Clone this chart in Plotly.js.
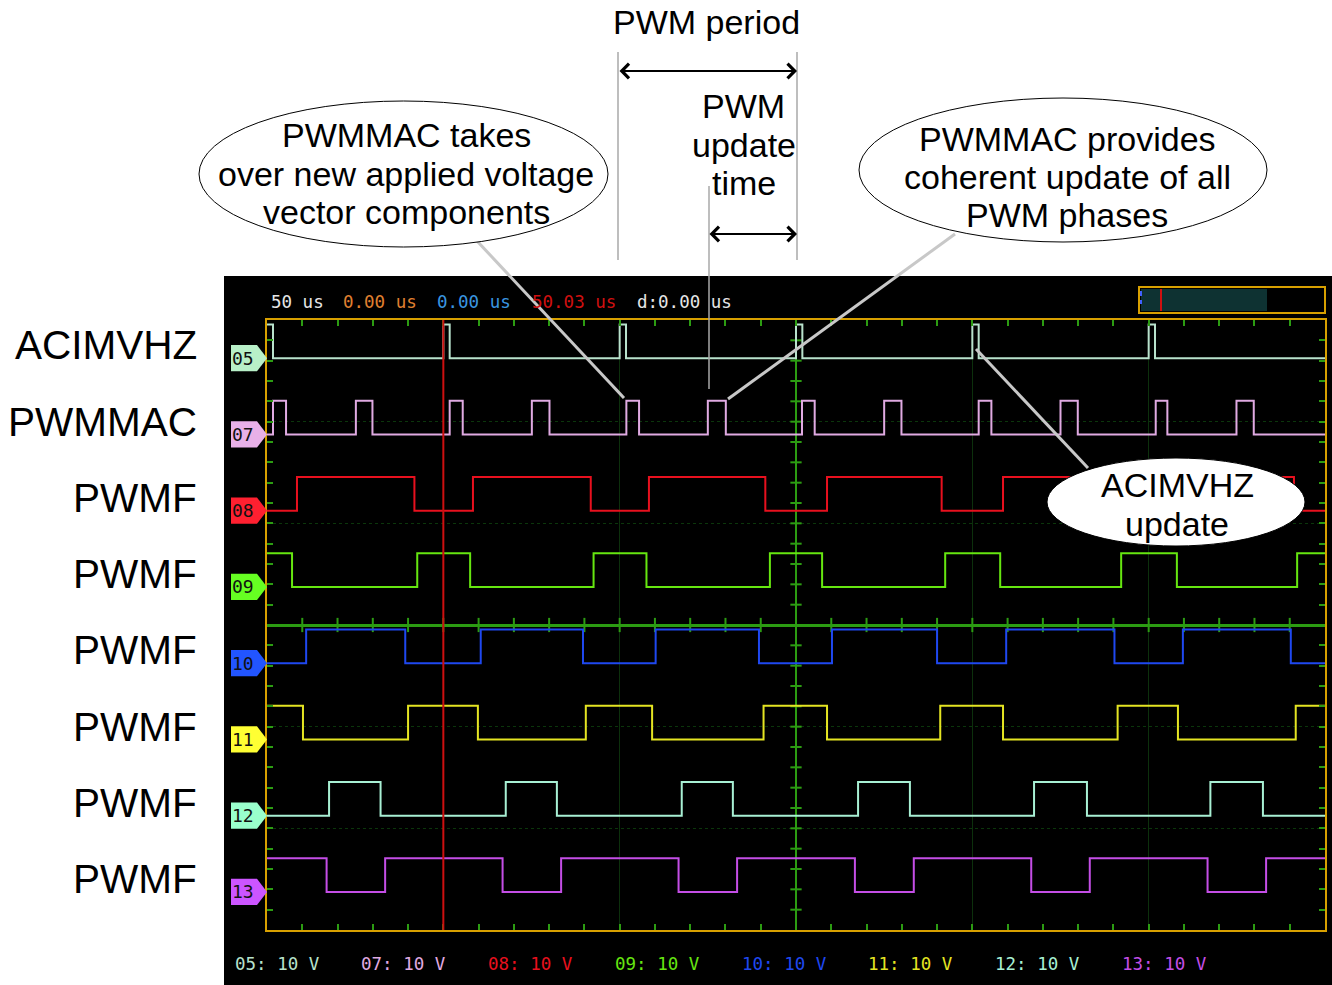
<!DOCTYPE html>
<html><head><meta charset="utf-8">
<script src="https://cdn.plot.ly/plotly-3.0.1.min.js"></script>
<style>html,body{margin:0;padding:0;background:#fff}</style>
</head><body><div id="chart" style="width:1332px;height:985px"></div>
<script>
// ---------------- data ----------------
const channels      = ['05','07','08','09','10','11','12','13'];
const channelNames  = ['ACIMVHZ','PWMMAC','PWMF','PWMF','PWMF','PWMF','PWMF','PWMF'];
const channelOffsets = [26.25, 18.75, 11.25, 3.75, -3.75, -11.25, -18.75, -26.25]; // V (10 V/div)
const logicHigh = 3.3;                       // V
const startLevels = [1, 0, 0, 1, 0, 1, 0, 1]; // level at t = 0
const timeSpan = [0, 300];                   // us (50 us/div)
const cursorTime = 50;                       // us

// edge times (us) for each channel
const edges05 = [1.7, 50.0, 51.8, 100.0, 101.8, 150.0, 151.8, 200.0, 201.8, 250.0, 251.8];
const edges07 = [1.7, 5.4, 25.2, 29.9, 51.8, 55.5, 75.1, 80.1, 101.9, 105.5, 125.0, 130.1,
                 151.7, 155.3, 175.0, 179.9, 201.8, 205.4, 225.0, 229.9, 252.0, 255.3, 274.9, 279.8];
const edges08 = [8.5, 41.8, 58.4, 91.8, 108.3, 141.3, 158.8, 191.3, 208.7, 241.3, 258.6, 291.2];
const edges09 = [7.1, 42.6, 57.6, 92.6, 107.6, 142.6, 157.4, 192.3, 207.9, 242.2, 258.0, 292.1];
const edges10 = [11.1, 39.2, 60.6, 89.6, 110.2, 139.5, 160.2, 190.0, 209.6, 240.3, 259.7, 290.3];
const edges11 = [10.2, 40.0, 59.8, 90.4, 109.2, 140.8, 158.8, 190.9, 208.7, 241.2, 258.3, 291.7];
const edges12 = [17.6, 32.2, 67.7, 82.2, 117.6, 132.1, 167.6, 182.3, 217.5, 232.5, 267.5, 282.4];
const edges13 = [16.9, 33.5, 66.8, 83.4, 116.7, 133.3, 166.7, 183.4, 216.7, 233.3, 266.7, 283.3];
const allEdges = [edges05, edges07, edges08, edges09, edges10, edges11, edges12, edges13];

const headerTexts  = ['50 us', '0.00 us', '0.00 us', '50.03 us', 'd:0.00 us'];
const scaleTexts   = ['05: 10 V','07: 10 V','08: 10 V','09: 10 V','10: 10 V','11: 10 V','12: 10 V','13: 10 V'];

// ---------------- styles ----------------
const traceColors = ['#b8e2cc','#e0aae2','#e8101e','#66e610','#1f48f0','#e4e422','#a8f0d4','#c44ee6'];
const tagColors   = ['#b8f0c8','#e8b0e8','#ff2030','#66ff22','#2255ff','#ffff33','#99ffcc','#cc55ff'];
const headerColors = ['#e6e6e6','#e08030','#3a96e0','#d01010','#e6e6e6'];
const headerX = [271, 343, 437, 532, 637];
const scaleX  = [235, 361, 488, 615, 742, 868, 995, 1122];

const W = 1332, H = 985;
const X = p => p / W;
const Y = p => 1 - p / H;
const SANS = 'Liberation Sans, Arial, sans-serif';
const MONO = 'DejaVu Sans Mono, monospace';
const GREEN = '#2c9c12';

// ---------------- traces ----------------
const traces = channels.map((ch, i) => {
  const xs = [timeSpan[0]], ys = [];
  let lvl = startLevels[i];
  ys.push(channelOffsets[i] + lvl * logicHigh);
  allEdges[i].forEach(t => { lvl = 1 - lvl; xs.push(t); ys.push(channelOffsets[i] + lvl * logicHigh); });
  xs.push(timeSpan[1]); ys.push(channelOffsets[i] + lvl * logicHigh);
  return {x: xs, y: ys, type: 'scatter', mode: 'lines', line: {shape: 'hv', color: traceColors[i], width: 2},
          name: ch, hoverinfo: 'skip', showlegend: false};
});

// ---------------- shapes ----------------
const shapes = [];
// scope screen background
shapes.push({type:'rect', xref:'paper', yref:'paper', x0:X(224), x1:X(1332), y0:Y(985), y1:Y(276),
  fillcolor:'#000', line:{width:0}, layer:'below'});
// center cross lines
shapes.push({type:'line', xref:'x', yref:'y', x0:150, x1:150, y0:-30, y1:30, line:{color:GREEN, width:2}, layer:'between'});
for (let v = -28; v <= 28; v += 2) {
  if (v === 0) continue;
  shapes.push({type:'line', xref:'x', yref:'y', x0:148.4, x1:151.6, y0:v, y1:v, line:{color:GREEN, width:2}, layer:'between'});
}
for (let t = 10; t < 300; t += 10) {
  if (t === 150) continue;
  shapes.push({type:'line', xref:'x', yref:'y', x0:t, x1:t, y0:-0.7, y1:0.7, line:{color:GREEN, width:2}, layer:'between'});
}
// cursor
shapes.push({type:'line', xref:'x', yref:'y', x0:cursorTime, x1:cursorTime, y0:-30.3, y1:30, line:{color:'#cc1010', width:2}, layer:'above'});
// channel tags
channels.forEach((ch, i) => {
  const c = channelOffsets[i], h = 1.3;
  shapes.push({type:'path', xref:'paper', yref:'y',
    path:`M${X(231)},${c+h} L${X(257)},${c+h} L${X(267)},${c} L${X(257)},${c-h} L${X(231)},${c-h} Z`,
    fillcolor: tagColors[i], line:{width:0}, layer:'above'});
});
// overview box
shapes.push({type:'rect', xref:'paper', yref:'paper', x0:X(1141), x1:X(1267), y0:Y(311), y1:Y(289), fillcolor:'#0e3232', line:{width:0}, layer:'above'});
shapes.push({type:'rect', xref:'paper', yref:'paper', x0:X(1139), x1:X(1325), y0:Y(313), y1:Y(287), line:{color:'#d8a000', width:2}, layer:'above'});
shapes.push({type:'line', xref:'paper', yref:'paper', x0:X(1161), x1:X(1161), y0:Y(311), y1:Y(289), line:{color:'#d01010', width:2}, layer:'above'});
shapes.push({type:'line', xref:'paper', yref:'paper', x0:X(1141), x1:X(1141), y0:Y(296), y1:Y(291), line:{color:'#4060ff', width:2}, layer:'above'});
shapes.push({type:'line', xref:'paper', yref:'paper', x0:X(1141), x1:X(1141), y0:Y(304), y1:Y(300), line:{color:'#4060ff', width:2}, layer:'above'});
// dimension helper lines
[[618,52,260],[797,52,260],[709,186,389]].forEach(([x,a,b]) =>
  shapes.push({type:'line', xref:'paper', yref:'paper', x0:X(x), x1:X(x), y0:Y(a), y1:Y(b), line:{color:'#a8a8a8', width:1.5}, layer:'above'}));
// callout connectors
[[477,241,624,398],[955,234,728,399],[1088,468,976,349]].forEach(([a,b,c,d]) =>
  shapes.push({type:'line', xref:'paper', yref:'paper', x0:X(a), y0:Y(b), x1:X(c), y1:Y(d), line:{color:'#c8c8c8', width:3}, layer:'above'}));
// callout ellipses
[[199,101,608,247],[859,98,1267,242],[1047,458,1305,546]].forEach(([a,b,c,d]) =>
  shapes.push({type:'circle', xref:'paper', yref:'paper', x0:X(a), y0:Y(d), x1:X(c), y1:Y(b), fillcolor:'#fff', line:{color:'#000', width:1}, layer:'above'}));

// ---------------- annotations ----------------
const ann = [];
const FS = 34;
const txt = (t, x, y, size, opts={}) => ann.push(Object.assign({text:t, xref:'paper', yref:'paper', x:X(x), y:Y(y),
  xanchor:'center', yanchor:'middle', showarrow:false, font:{family:SANS, size:size, color:'#000'}}, opts));
txt('PWM period', 707, 22, FS);
txt('PWM', 744, 106, FS); txt('update', 744, 145, FS); txt('time', 744, 183, FS);
txt('PWMMAC takes', 406, 135, FS); txt('over new applied voltage', 406, 174, FS); txt('vector components', 406, 212, FS);
txt('PWMMAC provides', 1067, 139, FS); txt('coherent update of all', 1067, 177, FS); txt('PWM phases', 1067, 215, FS);
txt('ACIMVHZ', 1177, 485, FS); txt('update', 1177, 524, FS);
// arrows
[[797,71,179],[797,234,89]].forEach(([x,y,len]) => ann.push({text:'', xref:'paper', yref:'paper', x:X(x), y:Y(y),
  ax:-len, ay:0, showarrow:true, arrowside:'end+start', arrowhead:4, startarrowhead:4, arrowsize:1.4, startarrowsize:1.4,
  arrowwidth:2, arrowcolor:'#000'}));
// channel names & tag numbers
channels.forEach((ch, i) => {
  ann.push({text:channelNames[i], xref:'paper', yref:'y', x:X(199), y:channelOffsets[i] + 1.25, xanchor:'right', yanchor:'middle',
    showarrow:false, font:{family:SANS, size:40.5, color:'#000'}});
  ann.push({text:ch, xref:'paper', yref:'y', x:X(243), y:channelOffsets[i], xanchor:'center', yanchor:'middle',
    showarrow:false, font:{family:MONO, size:18, color:'#111'}});
});
// scope header and scale legend
headerTexts.forEach((t, i) => ann.push({text:t, xref:'paper', yref:'paper', x:X(headerX[i]-2), y:Y(302), xanchor:'left', yanchor:'middle',
  showarrow:false, font:{family:MONO, size:17.5, color:headerColors[i]}}));
scaleTexts.forEach((t, i) => ann.push({text:t, xref:'paper', yref:'paper', x:X(scaleX[i]-2), y:Y(964), xanchor:'left', yanchor:'middle',
  showarrow:false, font:{family:MONO, size:17.5, color:traceColors[i]}}));

// ---------------- layout ----------------
const tickStyle = {ticks:'inside', tickcolor:GREEN, tickwidth:2};
const layout = {
  width: W, height: H, margin:{l:0, r:0, t:0, b:0},
  paper_bgcolor:'#fff', plot_bgcolor:'#000', showlegend:false,
  xaxis: Object.assign({domain:[X(267), X(1325)], range:timeSpan, dtick:50, ticklen:6, showticklabels:false,
    showgrid:true, gridcolor:'#0c300c', gridwidth:1, zeroline:false, showline:true, linecolor:'#d8a000', linewidth:2, mirror:'ticks',
    minor:{dtick:10, ticks:'inside', ticklen:6, tickcolor:GREEN, tickwidth:2, showgrid:false}}, tickStyle),
  yaxis: Object.assign({domain:[Y(930), Y(320)], range:[-30, 30], dtick:10, ticklen:6, showticklabels:false,
    showgrid:true, gridcolor:'#0b360b', gridwidth:1.5, griddash:'dot', zeroline:true, zerolinecolor:GREEN, zerolinewidth:3,
    showline:true, linecolor:'#d8a000', linewidth:2, mirror:'ticks',
    minor:{dtick:2, ticks:'inside', ticklen:6, tickcolor:GREEN, tickwidth:2, showgrid:false}}, tickStyle),
  shapes: shapes, annotations: ann
};
Plotly.newPlot('chart', traces, layout, {staticPlot:true, displayModeBar:false});
</script></body></html>
